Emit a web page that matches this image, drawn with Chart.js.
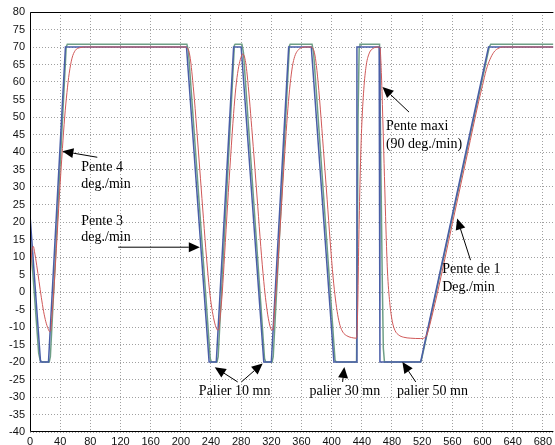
<!DOCTYPE html>
<html>
<head>
<meta charset="utf-8">
<script src="https://cdn.jsdelivr.net/npm/chart.js@4.4.1/dist/chart.umd.min.js"></script>
<style>
html, body { margin: 0; padding: 0; background: #fff; overflow: hidden; }
</style>
</head>
<body>
<canvas id="plot" width="555" height="445"></canvas>
<script>
// consigne (blue)
const consigneT = [0, 14, 24.5, 47, 207.5, 237.5, 247, 270, 280, 310, 320, 343, 373, 403, 432.5, 433.5, 463, 464, 518, 608, 694];
const consigneV = [22, -20, -20, 70, 70, -20, -20, 70, 70, -20, -20, 70, 70, -20, -20, 70, 70, -20, -20, 70, 70];

// mesure air (green)
const airT = [0, 11.5, 13.5, 16, 25.5, 27, 48, 49.5, 208, 210, 239, 240.5, 248, 249.5, 271, 272, 281, 283, 311, 312.5, 321, 322.5, 344, 345, 374, 376, 404.5, 406, 433, 434, 435, 436.5, 437.5, 463.5, 465, 467, 468.5, 470, 518, 519.5, 609, 611, 694];
const airV = [16.5, -17.5, -19.5, -20, -20, -18.5, 70, 70.8, 70.8, 69, -19, -20, -20, -18.5, 70.5, 70.8, 70.8, 68.5, -19, -20, -20, -18.5, 70.3, 70.8, 70.8, 68.5, -19.5, -20, -20, 10, 50, 70, 70.8, 70.8, 40, 5, -16, -20, -20, -19, 70, 70.8, 70.8];

// mesure piece (red)
const pieceT = [0, 1.5, 3, 4.5, 6, 9, 12, 15, 18, 21, 24, 26, 27.5, 29, 31.5, 35, 39, 43, 46, 49, 52, 55.7, 60, 66, 75,
  207, 209, 211, 213, 215, 218, 222, 226, 230, 234, 238, 241, 244, 246.5, 249, 250.5, 252, 255, 258, 262, 266, 270, 273, 276, 279, 282,
  284, 286, 288, 291, 294, 298, 302, 306, 310, 313, 316, 319, 321, 322.5, 324, 327, 331, 335, 339, 342, 345, 348, 351, 355, 360, 366,
  373, 375, 377, 379, 382, 386, 390, 394, 398, 402, 405, 408, 411, 415, 420, 426, 433, 434.5, 436, 438, 440, 443, 446, 450, 455, 462,
  464, 466, 468, 470, 472, 474, 477, 480.5, 484, 489, 495, 505, 518, 522, 526, 530, 534, 540, 560, 580, 595, 600, 605, 610, 615, 620, 628, 694];
const pieceV = [1.5, 9, 12.5, 13, 11.5, 7.5, 3, -1.5, -5.5, -8.5, -10.5, -11.3, -11, -7, 0, 12.5, 27.5, 41, 50, 57, 62.5, 66.8, 69, 69.8, 70,
  70, 69.6, 68.5, 66, 62, 55, 44, 32.5, 21, 10, 0.5, -4.5, -8, -10, -10.9, -10.5, -7.5, 0, 10.5, 25, 38.5, 51, 58.5, 63.5, 66.5, 68,
  67.5, 65.5, 62, 55, 47, 36, 24.5, 13, 3, -3, -7.5, -10.3, -10.9, -10.2, -6, 2.5, 16, 30, 43.5, 52.5, 59.5, 64.5, 67.3, 69, 69.8, 70,
  70, 69.7, 68.5, 66, 60, 49.5, 38, 26.5, 14.5, 4, -2, -6.5, -9.5, -11.5, -12.5, -13, -13.2, -5, 15, 35, 48, 59, 65, 68.3, 69.6, 70,
  69.9, 62, 48, 33, 18, 6, -3, -8.5, -11, -12.3, -12.9, -13.2, -13.3, -13.2, -12.3, -9.5, -6, -0.5, 19.5, 39.5, 54.5, 59, 63.5, 66.5, 68.5, 69.5, 70, 70];

// axis ticks
const xTicks = [0, 40, 80, 120, 160, 200, 240, 280, 320, 360, 400, 440, 480, 520, 560, 600, 640, 680];

// annotations (data units)
const noteT = [68, 68, 68, 68, 471.9, 471.9, 546.6, 546.6, 223.9, 370.5, 486.8];
const noteV = [35.6, 30.8, 20.2, 15.6, 47.3, 42.2, 6.5, 1.3, -28.4, -28.4, -28.4];
const noteText = ['Pente 4', 'deg./min', 'Pente 3', 'deg./min', 'Pente maxi', '(90 deg./min)',
  'Pente de 1', 'Deg./min', 'Palier 10 mn', 'palier 30 mn', 'palier 50 mn'];
const arrowFrom = [[89.2, 38.5], [116.9, 12.8], [502.6, 51.4], [584.1, 9.1], [275.4, -25.7], [280.3, -25.7], [414.5, -25.7], [511.5, -25.7]];
const arrowTo = [[42.9, 40.2], [225.2, 12.8], [467.4, 58.6], [566.4, 21], [245, -21.5], [308.5, -20.4], [416.8, -21.4], [493.8, -20]];

function pts(ts, vs) {
  return ts.map((t, i) => ({x: t, y: vs[i]}));
}

const notesPlugin = {
  id: 'notes',
  afterDatasetsDraw(chart) {
    const ctx = chart.ctx;
    const xs = chart.scales.x, ys = chart.scales.y;
    const a = chart.chartArea;
    ctx.save();
    // axes box
    ctx.strokeStyle = '#000';
    ctx.lineWidth = 1;
    ctx.beginPath();
    ctx.moveTo(a.right, a.top + 0.5);
    ctx.lineTo(a.left + 0.5, a.top + 0.5);
    ctx.lineTo(a.left + 0.5, a.bottom - 0.5);
    ctx.lineTo(a.right, a.bottom - 0.5);
    ctx.stroke();

    ctx.fillStyle = '#000';
    ctx.font = '14px "Liberation Serif", "Times New Roman", serif';
    ctx.textBaseline = 'middle';
    ctx.textAlign = 'left';
    noteText.forEach((s, i) => {
      ctx.fillText(s, xs.getPixelForValue(noteT[i]), ys.getPixelForValue(noteV[i]));
    });

    arrowFrom.forEach((f, i) => {
      const x1 = xs.getPixelForValue(f[0]), y1 = ys.getPixelForValue(f[1]);
      const x2 = xs.getPixelForValue(arrowTo[i][0]), y2 = ys.getPixelForValue(arrowTo[i][1]);
      const ang = Math.atan2(y2 - y1, x2 - x1);
      const len = 11, half = 5;
      const bx = x2 - len * Math.cos(ang), by = y2 - len * Math.sin(ang);
      ctx.beginPath();
      ctx.moveTo(x1, y1);
      ctx.lineTo(bx, by);
      ctx.stroke();
      ctx.beginPath();
      ctx.moveTo(x2, y2);
      ctx.lineTo(bx + half * Math.sin(ang), by - half * Math.cos(ang));
      ctx.lineTo(bx - half * Math.sin(ang), by + half * Math.cos(ang));
      ctx.closePath();
      ctx.fill();
    });
    ctx.restore();
  }
};

const tickFont = {family: '"Liberation Sans", Arial, sans-serif', size: 11};

new Chart(document.getElementById('plot'), {
  type: 'line',
  data: {
    datasets: [
      {
        label: 'piece',
        data: pts(pieceT, pieceV),
        borderColor: '#d05858',
        borderWidth: 1,
        pointRadius: 0,
        cubicInterpolationMode: 'monotone',
        fill: false
      },
      {
        label: 'consigne',
        data: pts(consigneT, consigneV),
        borderColor: '#4a5ea8',
        borderWidth: 1.5,
        pointRadius: 0,
        tension: 0,
        fill: false
      },
      {
        label: 'air',
        data: pts(airT, airV),
        borderColor: '#6e9f86',
        borderWidth: 1.5,
        pointRadius: 0,
        tension: 0,
        fill: false
      }
    ]
  },
  options: {
    responsive: false,
    animation: false,
    events: [],
    layout: {padding: {top: 12, right: 0, left: 0, bottom: 0}},
    plugins: {legend: {display: false}, tooltip: {enabled: false}},
    scales: {
      x: {
        type: 'linear',
        min: 0,
        max: 694,
        afterBuildTicks: s => { s.ticks = xTicks.map(v => ({value: v})); },
        afterFit: s => { s.height = 13; },
        ticks: {font: tickFont, color: '#111', padding: 3, maxRotation: 0, autoSkip: false},
        grid: {color: '#a0a0a0', lineWidth: 1, drawTicks: false},
        border: {display: false, dash: [1, 2]}
      },
      y: {
        type: 'linear',
        min: -40,
        max: 80,
        afterFit: s => { s.width = 30; },
        ticks: {stepSize: 5, font: tickFont, color: '#111', padding: 5, autoSkip: false},
        grid: {color: '#a0a0a0', lineWidth: 1, drawTicks: false},
        border: {display: false, dash: [1, 2]}
      }
    }
  },
  plugins: [notesPlugin]
});
</script>
</body>
</html>
